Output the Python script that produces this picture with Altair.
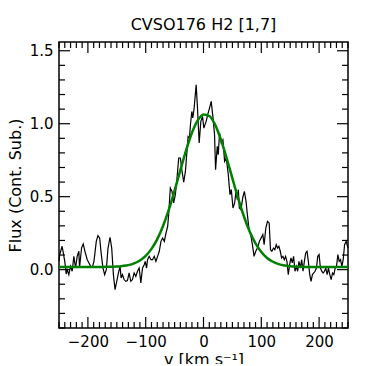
import altair as alt
import pandas as pd

v_left = [-250.0, -248.7, -244.6, -240.0, -237.6, -235.9, -233.0, -230.1, -227.2, -224.3,
          -221.4, -218.5, -215.6, -214.5, -211.0, -208.1, -205.2, -201.1, -198.2, -195.3,
          -192.4, -189.5, -185.5, -182.6, -179.7, -176.8, -173.9, -171.0, -168.1, -165.2,
          -161.7, -158.8, -155.9, -153.0, -150.1, -147.2, -144.3, -142.6, -140.3, -137.4,
          -134.5, -131.6, -128.7, -125.8, -122.9, -120.0, -117.1, -114.2, -111.3, -108.4,
          -105.5, -102.6, -100.8, -98.5, -96.8, -93.9, -91.0, -88.1, -85.2, -82.3,
          -79.4, -76.5, -73.6, -70.7, -67.8, -64.9, -62.0, -60.3, -57.4, -54.5,
          -51.6, -48.7, -45.8, -42.9, -40.0, -37.1, -34.2, -31.3, -28.4, -26.6,
          -24.3, -22.6, -20.2, -18.5, -16.2, -12.7, -10.4, -7.5, -4.6, -1.7]
flux_left = [0.06, 0.103, 0.160, 0.057, -0.030, 0.000, -0.034, 0.023, -0.011, 0.091,
             0.011, 0.091, 0.126, 0.011, 0.148, 0.176, 0.126, 0.068, 0.046, 0.023,
             0.016, 0.057, 0.194, 0.233, 0.217, 0.103, 0.011, -0.034, 0.000, 0.148,
             0.222, 0.148, -0.034, -0.137, -0.080, -0.023, 0.023, -0.057, -0.034, -0.068,
             -0.080, -0.075, -0.023, -0.080, -0.068, -0.023, -0.046, -0.011, 0.011, -0.091,
             0.011, 0.034, 0.057, 0.011, 0.068, 0.091, 0.068, 0.068, 0.091, 0.057,
             0.091, 0.126, 0.194, 0.217, 0.194, 0.251, 0.297, 0.377, 0.559, 0.536,
             0.457, 0.514, 0.628, 0.765, 0.765, 0.673, 0.600, 0.673, 0.822, 0.913,
             0.902, 0.993, 1.084, 1.039, 1.107, 1.267, 1.107, 0.868, 1.016, 1.050]
v_right = [0.6, 4.6, 7.5, 10.4, 13.3, 16.2, 19.1, 20.9, 23.8, 25.5,
           27.8, 30.7, 33.6, 36.5, 39.4, 42.9, 45.8, 48.1, 51.0, 53.9,
           56.2, 58.5, 60.3, 62.0, 64.9, 67.8, 70.7, 73.6, 75.9, 78.8,
           81.7, 84.6, 87.5, 90.4, 93.3, 96.8, 99.7, 102.6, 104.9, 107.8,
           110.7, 113.6, 115.9, 118.3, 121.2, 123.5, 125.8, 128.1, 130.4, 132.8,
           135.1, 137.4, 139.7, 142.0, 144.3, 146.7, 149.0, 151.3, 153.6, 155.9,
           158.3, 160.6, 162.9, 165.2, 167.5, 169.9, 172.2, 174.5, 176.8, 179.1,
           181.4, 183.8, 186.1, 188.4, 190.7, 193.0, 195.4, 197.7, 200.0, 202.3,
           204.6, 207.0, 209.3, 211.6, 213.9, 216.2, 218.5, 220.9, 223.2, 225.5,
           227.8, 230.1, 232.5, 234.8, 237.1, 239.4, 241.7, 244.1, 246.9, 249.9]
flux_right = [0.970, 1.016, 1.066, 1.107, 1.153, 1.050, 0.925, 0.685, 0.845, 0.788,
              0.936, 0.868, 0.890, 0.742, 0.765, 0.651, 0.514, 0.548, 0.422, 0.457,
              0.537, 0.480, 0.548, 0.422, 0.411, 0.491, 0.537, 0.468, 0.377, 0.274,
              0.240, 0.171, 0.091, 0.126, 0.148, 0.194, 0.217, 0.240, 0.171, 0.285,
              0.331, 0.320, 0.137, 0.126, 0.148, 0.137, 0.171, 0.148, 0.160, 0.126,
              0.080, 0.091, 0.068, 0.091, 0.057, -0.034, 0.034, 0.080, 0.046, 0.091,
              -0.011, 0.023, -0.011, 0.057, 0.011, 0.068, -0.011, 0.057, 0.114, 0.126,
              0.057, -0.034, -0.080, -0.034, -0.023, -0.011, 0.011, 0.091, 0.103, 0.011,
              -0.011, -0.023, -0.011, 0.011, -0.034, 0.011, -0.034, -0.068, -0.023, -0.034,
              0.011, 0.023, 0.103, 0.057, 0.068, 0.023, 0.068, 0.171, 0.194, 0.148]

# Fitted profile
v_fit = [-250, -240, -230, -220, -210, -200, -190, -180, -170, -160,
         -150, -140, -130, -120, -110, -100, -90, -80, -70, -60,
         -50, -40, -30, -20, -10, 0, 10, 20, 30, 40,
         50, 60, 70, 80, 90, 100, 110, 120, 130, 140,
         150, 160, 170, 180, 190, 200, 210, 220, 230, 240, 250]
flux_fit = [0.018, 0.018, 0.018, 0.018, 0.018, 0.018, 0.018, 0.018, 0.019, 0.020,
            0.021, 0.025, 0.031, 0.043, 0.063, 0.094, 0.142, 0.209, 0.299, 0.411,
            0.542, 0.682, 0.819, 0.938, 1.023, 1.064, 1.053, 0.994, 0.893, 0.765,
            0.625, 0.488, 0.364, 0.260, 0.180, 0.121, 0.080, 0.054, 0.038, 0.028,
            0.023, 0.020, 0.019, 0.018, 0.018, 0.018, 0.018, 0.018, 0.018, 0.018, 0.018]

# Tick positions
x_major = [-200, -100, 0, 100, 200]
x_minor = [-250, -240, -230, -220, -210, -190, -180, -170, -160, -150, -140, -130, -120, -110,
           -90, -80, -70, -60, -50, -40, -30, -20, -10, 10, 20, 30, 40, 50, 60, 70, 80, 90,
           110, 120, 130, 140, 150, 160, 170, 180, 190, 210, 220, 230, 240, 250]
y_major = [0.0, 0.5, 1.0, 1.5]
y_minor = [-0.4, -0.3, -0.2, -0.1, 0.1, 0.2, 0.3, 0.4, 0.6, 0.7, 0.8, 0.9,
           1.1, 1.2, 1.3, 1.4]

W, H = 289, 286
MAJ, MIN = 11, 6

obs = pd.DataFrame({"v": v_left + v_right, "flux": flux_left + flux_right})
fit = pd.DataFrame({"v": v_fit, "flux": flux_fit})

xs = alt.Scale(domain=[-250, 250], nice=False, zero=False)
ys = alt.Scale(domain=[-0.4, 1.56], nice=False, zero=False)

ax_x = alt.Axis(values=x_major, format="d", title="v [km s⁻¹]", titlePadding=2)
ax_y = alt.Axis(values=y_major, format=".1f", title="Flux (Cont. Sub.)", titlePadding=6)

line_obs = alt.Chart(obs).mark_line(color="black", strokeWidth=1.2).encode(
    x=alt.X("v:Q", scale=xs, axis=ax_x),
    y=alt.Y("flux:Q", scale=ys, axis=ax_y),
)
line_fit = alt.Chart(fit).mark_line(color="#008000", strokeWidth=2.5,
                                    interpolate="monotone").encode(
    x=alt.X("v:Q", scale=xs, axis=ax_x),
    y=alt.Y("flux:Q", scale=ys, axis=ax_y),
)

def xticks(vals, length):
    d = pd.DataFrame({"v": vals})
    base = alt.Chart(d).mark_rule(color="black", strokeWidth=1.2)
    bot = base.encode(x=alt.X("v:Q", scale=xs, axis=ax_x),
                      y=alt.value(H), y2=alt.value(H - length))
    top = base.encode(x=alt.X("v:Q", scale=xs, axis=ax_x),
                      y=alt.value(0), y2=alt.value(length))
    return [bot, top]

def yticks(vals, length):
    d = pd.DataFrame({"flux": vals})
    base = alt.Chart(d).mark_rule(color="black", strokeWidth=1.2)
    left = base.encode(y=alt.Y("flux:Q", scale=ys, axis=ax_y),
                       x=alt.value(0), x2=alt.value(length))
    right = base.encode(y=alt.Y("flux:Q", scale=ys, axis=ax_y),
                        x=alt.value(W), x2=alt.value(W - length))
    return [left, right]

layers = [line_obs, line_fit] + xticks(x_major, MAJ) + xticks(x_minor, MIN) \
    + yticks(y_major, MAJ) + yticks(y_minor, MIN)

chart = alt.layer(*layers).properties(
    width=W, height=H,
    title=alt.TitleParams("CVSO176 H2 [1,7]", font="DejaVu Sans", fontSize=16,
                          fontWeight="normal", color="black", offset=8),
    autosize=alt.AutoSizeParams(type="none"),
    padding={"left": 51, "top": 34, "right": 33, "bottom": 36},
).configure_view(
    stroke="black", strokeWidth=1.5
).configure_axis(
    labelFont="DejaVu Sans", labelFontSize=15, labelColor="black",
    titleFont="DejaVu Sans", titleFontSize=16, titleFontWeight="normal",
    titleColor="black", domain=False, ticks=False, tickSize=0, grid=False,
    labelPadding=6,
)

chart.save("out.html", embed_options={"renderer": "svg", "actions": False})
